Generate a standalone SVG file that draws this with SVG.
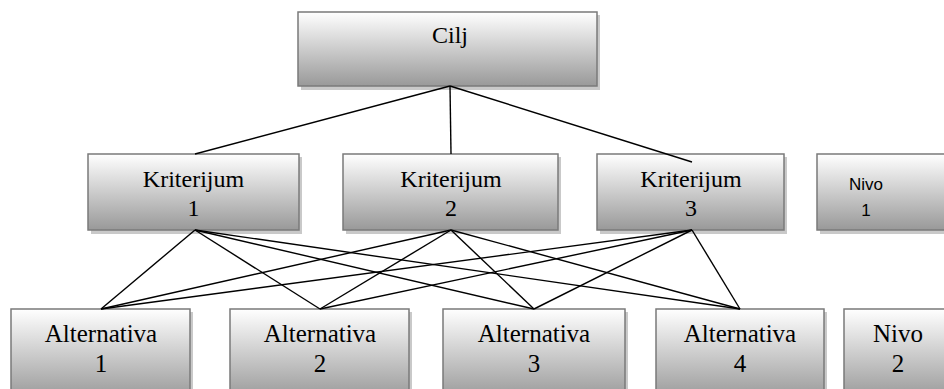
<svg xmlns="http://www.w3.org/2000/svg" width="944" height="389" viewBox="0 0 944 389">
<defs>
<linearGradient id="g" x1="0" y1="0" x2="0" y2="1">
<stop offset="0" stop-color="#ffffff"/>
<stop offset="1" stop-color="#999999"/>
</linearGradient>
<style>
.sh{fill:#c9c9c9}
.box{fill:url(#g);stroke:#7a7a7a;stroke-width:1.5}
text{fill:#000;text-anchor:middle}
.c line{stroke:#000;stroke-width:1.4}
</style>
</defs>
<rect width="944" height="389" fill="#fff"/>
<g font-family="Liberation Serif, Times New Roman, serif" font-size="24">
<g id="cilj">
<rect class="sh" x="301" y="15" width="299" height="75"/>
<rect class="box" x="298" y="12" width="299" height="74"/>
<text x="450" y="43">Cilj</text>
</g>
<g id="k1">
<rect class="sh" x="91" y="157" width="211" height="77"/>
<rect class="box" x="88" y="154" width="211" height="76"/>
<text x="193.5" y="187">Kriterijum</text>
<text x="193.5" y="216">1</text>
</g>
<g id="k2">
<rect class="sh" x="346" y="157" width="215" height="77"/>
<rect class="box" x="343" y="154" width="215" height="76"/>
<text x="451" y="187">Kriterijum</text>
<text x="451" y="216">2</text>
</g>
<g id="k3">
<rect class="sh" x="600" y="157" width="187" height="77"/>
<rect class="box" x="597" y="154" width="187" height="76"/>
<text x="691" y="187">Kriterijum</text>
<text x="691" y="216">3</text>
</g>
<g id="nivo1" font-family="Liberation Sans, Arial, sans-serif" font-size="17">
<rect class="sh" x="820" y="157" width="140" height="77"/>
<rect class="box" x="817" y="154" width="140" height="76"/>
<text x="866" y="190">Nivo</text>
<text x="866" y="216">1</text>
</g>
<g font-size="25">
<g id="a1">
<rect class="sh" x="14" y="312" width="179" height="90"/>
<rect class="box" x="11" y="309" width="179" height="90"/>
<text x="101" y="342">Alternativa</text>
<text x="101" y="372">1</text>
</g>
<g id="a2">
<rect class="sh" x="233" y="312" width="179" height="90"/>
<rect class="box" x="230" y="309" width="179" height="90"/>
<text x="320" y="342">Alternativa</text>
<text x="320" y="372">2</text>
</g>
<g id="a3">
<rect class="sh" x="446" y="312" width="182" height="90"/>
<rect class="box" x="443" y="309" width="182" height="90"/>
<text x="534" y="342">Alternativa</text>
<text x="534" y="372">3</text>
</g>
<g id="a4">
<rect class="sh" x="659" y="312" width="168" height="90"/>
<rect class="box" x="656" y="309" width="168" height="90"/>
<text x="740" y="342">Alternativa</text>
<text x="740" y="372">4</text>
</g>
<g id="nivo2">
<rect class="sh" x="847" y="312" width="120" height="90"/>
<rect class="box" x="844" y="309" width="120" height="90"/>
<text x="898" y="342">Nivo</text>
<text x="898" y="372">2</text>
</g>
</g>
</g>
<g id="connectors" class="c">
<line x1="450" y1="86" x2="195" y2="154"/>
<line x1="450" y1="86" x2="451" y2="154"/>
<line x1="450" y1="86" x2="692" y2="162"/>
<line x1="195" y1="230" x2="101" y2="309"/>
<line x1="195" y1="230" x2="320" y2="309"/>
<line x1="195" y1="230" x2="534" y2="309"/>
<line x1="195" y1="230" x2="740" y2="309"/>
<line x1="451" y1="230" x2="101" y2="309"/>
<line x1="451" y1="230" x2="320" y2="309"/>
<line x1="451" y1="230" x2="534" y2="309"/>
<line x1="451" y1="230" x2="740" y2="309"/>
<line x1="692" y1="230" x2="101" y2="309"/>
<line x1="692" y1="230" x2="320" y2="309"/>
<line x1="692" y1="230" x2="534" y2="309"/>
<line x1="692" y1="230" x2="740" y2="309"/>
</g>
</svg>
